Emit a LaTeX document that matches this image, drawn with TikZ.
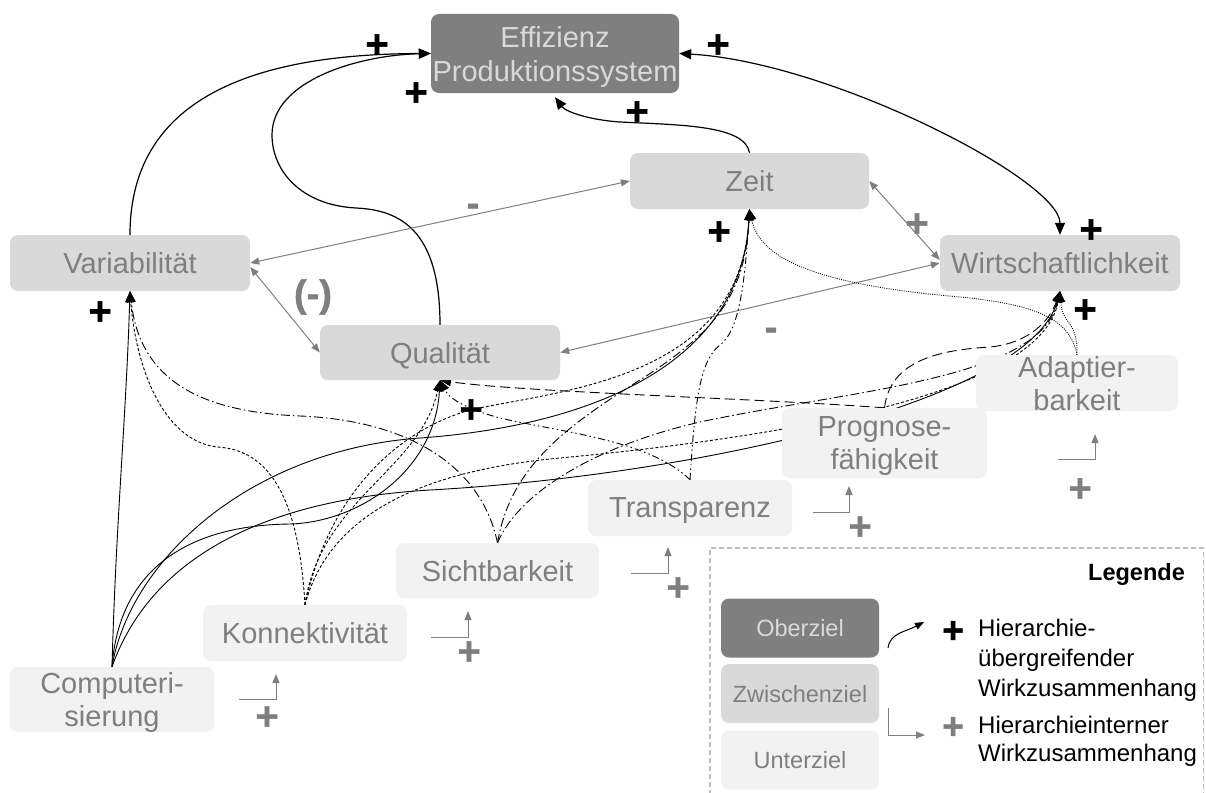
\documentclass[tikz,border=0pt]{standalone}
\usepackage{fontspec}
\setmainfont{Liberation Sans}
\newfontfamily\signfont[FakeBold=1.2]{Liberation Sans Bold}
\usetikzlibrary{arrows.meta}
\definecolor{dk}{HTML}{7F7F7F}
\definecolor{md}{HTML}{D9D9D9}
\definecolor{lt}{HTML}{F2F2F2}
\definecolor{lgray}{HTML}{BFBFBF}
\pgfdeclarelayer{links}
\pgfsetlayers{links,main}
\begin{document}
\begin{tikzpicture}[x=1pt,y=-1pt,
  goal/.style={rectangle, rounded corners=8pt, inner sep=0pt, align=center,
    text depth=0pt, font=\fontsize{29}{33}\selectfont},
  ober/.style={goal, fill=dk, text=md},
  zwischen/.style={goal, fill=md, text=dk},
  unter/.style={goal, fill=lt, text=dk},
  legbox/.style={font=\fontsize{23.5}{28}\selectfont, minimum width=158pt, minimum height=59pt},
  plusB/.style={font=\signfont\fontsize{40}{40}\selectfont, text=black, inner sep=0pt},
  plusG/.style={plusB, text=dk},
  signG/.style={font=\signfont\fontsize{38}{38}\selectfont, text=dk, inner sep=0pt},
  bigtip/.tip={Triangle[length=12pt,width=10pt]},
  smalltip/.tip={Triangle[length=9pt,width=7pt]},
  mainarrow/.style={draw=black, line width=1.2pt, -bigtip},
  link/.style={draw=black, line width=0.9pt, -{Triangle[length=11pt,width=9pt]}},
  fromComp/.style={link},
  fromKonn/.style={link, dash pattern=on 3pt off 2pt},
  fromSicht/.style={link, dash pattern=on 9pt off 3pt on 1.5pt off 3pt},
  fromTrans/.style={link, dash pattern=on 7pt off 3pt on 1.5pt off 3pt on 1.5pt off 3pt},
  fromProg/.style={link, dash pattern=on 10pt off 5pt},
  fromAdapt/.style={link, line width=0.8pt, dash pattern=on 1pt off 1.2pt},
  twoway/.style={draw=dk, line width=1pt, smalltip-smalltip},
  internal/.style={draw=dk, line width=1pt, -smalltip},
]
\useasboundingbox (0,0) rectangle (1206,792);

% ---------- goal boxes ----------
\node[ober, minimum width=248pt, minimum height=79pt, font=\fontsize{29}{34}\selectfont]
  (eff) at (555,53.5) {Effizienz\\Produktionssystem};
\node[zwischen, minimum width=239pt, minimum height=56pt] (zeit) at (749.5,181) {Zeit};
\node[zwischen, minimum width=240pt, minimum height=56pt] (wirt) at (1060,263) {Wirtschaftlichkeit};
\node[zwischen, minimum width=240pt, minimum height=56pt] (var) at (130,263) {Variabilität};
\node[zwischen, minimum width=240pt, minimum height=55pt] (qual) at (440,352.5) {Qualität};

\node[unter, minimum width=204pt, minimum height=65pt] (comp) at (112,699.5) {Computeri-\\sierung};
\node[unter, minimum width=204pt, minimum height=56pt] (konn) at (305,633) {Konnektivität};
\node[unter, minimum width=203pt, minimum height=55pt] (sicht) at (497.5,570.5) {Sichtbarkeit};
\node[unter, minimum width=204pt, minimum height=56pt] (trans) at (690,508) {Transparenz};
\node[unter, minimum width=205pt, minimum height=70pt] (progn) at (884.5,443) {Prognose-\\fähigkeit};
\node[unter, minimum width=202pt, minimum height=56pt] (adapt) at (1077,383) {Adaptier-\\barkeit};

% ---------- connectors (behind the boxes) ----------
\begin{pgfonlayer}{links}
% links towards the top goal
\draw[mainarrow] (var.north) .. controls (130,100) and (250,54) .. (eff.west);
\draw[mainarrow] (qual.north) .. controls (440,230) and (400,210) .. (356,208)
  .. controls (300,205) and (272,170) .. (272,135)
  .. controls (272,80) and (360,55) .. (eff.west);
\draw[mainarrow] (zeit.north) .. controls (745,125) and (680,125) .. (620,122)
  .. controls (590,120) and (566,112) .. ([yshift=-4pt]eff.south);
\draw[mainarrow, bigtip-bigtip] (eff.east) .. controls (830,62) and (1060,180) .. (wirt.north);

% links between intermediate goals
\draw[twoway] (zeit.west) -- (var.east);
\draw[twoway] ([yshift=-4pt]var.east) -- (qual.west);
\draw[twoway] (zeit.east) -- ([yshift=3pt]wirt.west);
\draw[twoway] (qual.east) -- (wirt.west);

% from Computerisierung
\draw[fromComp] (comp.north) .. controls (116,520) and (126,420) .. (var.south);
\draw[fromComp] (comp.north) .. controls (120,560) and (200,525) .. (290,524)
  .. controls (360,522) and (435,470) .. (qual.south);
\draw[fromComp] (comp.north) .. controls (130,560) and (250,450) .. (420,438)
  .. controls (560,428) and (740,380) .. (zeit.south);
\draw[fromComp] (comp.north) .. controls (150,560) and (260,500) .. (430,490)
  .. controls (700,475) and (1030,400) .. (wirt.south);

% from Konnektivitaet
\draw[fromKonn] (konn.north) .. controls (300,520) and (280,450) .. (217,447)
  .. controls (160,440) and (135,360) .. (var.south);
\draw[fromKonn] (konn.north) .. controls (320,500) and (420,470) .. (qual.south);
\draw[fromKonn] (konn.north) .. controls (330,490) and (400,430) .. (470,410)
  .. controls (560,390) and (740,380) .. (zeit.south);
\draw[fromKonn] (konn.north) .. controls (330,510) and (430,470) .. (560,458)
  .. controls (750,440) and (1040,400) .. (wirt.south);

% from Sichtbarkeit
\draw[fromSicht] (sicht.north) .. controls (480,460) and (400,420) .. (300,416)
  .. controls (200,412) and (140,380) .. (var.south);
\draw[fromSicht] (sicht.north) .. controls (510,470) and (560,430) .. (640,380)
  .. controls (710,335) and (745,300) .. (zeit.south);
\draw[fromSicht] (sicht.north) .. controls (520,490) and (600,445) .. (700,422)
  .. controls (850,390) and (1040,380) .. (wirt.south);

% from Transparenz
\draw[fromTrans] (trans.north) .. controls (650,440) and (560,432) .. (500,418)
  .. controls (470,410) and (450,400) .. (qual.south);
\draw[fromTrans] (trans.north) .. controls (695,400) and (700,360) .. (720,345)
  .. controls (740,330) and (745,280) .. (zeit.south);

% from Prognosefaehigkeit
\draw[fromProg] (progn.north) .. controls (750,398) and (520,392) .. (qual.south);
\draw[fromProg] (progn.north) .. controls (890,360) and (940,350) .. (990,347)
  .. controls (1030,343) and (1050,320) .. (wirt.south);

% from Adaptierbarkeit
\draw[fromAdapt] (adapt.north) .. controls (1078,320) and (1062,325) .. (wirt.south);
\draw[fromAdapt] (adapt.north) .. controls (1070,320) and (1040,305) .. (960,297)
  .. controls (820,285) and (760,260) .. (zeit.south);
\end{pgfonlayer}

% ---------- effect signs ----------
\node[plusB] (s1) at (377,46) {+};
\node[plusB] (s2) at (416,94) {+};
\node[plusB] (s3) at (718,46) {+};
\node[plusB] (s4) at (637,113) {+};
\node[plusB] (s5) at (719,233) {+};
\node[plusB] (s6) at (1091,231) {+};
\node[plusB] (s7) at (1085,311) {+};
\node[plusB] (s8) at (100,313) {+};
\node[plusB] (s9) at (471,411) {+};

\node[signG] (m1) at (473,210) {-};
\node[signG] (m2) at (313,297) {(-)};
\node[plusG] (g1) at (917,225) {+};
\node[signG] (m3) at (771,334) {-};

% ---------- hierarchy-internal markers ----------
\coordinate (i1a) at (239,699); \coordinate (i1b) at (276,674);
\coordinate (i2a) at (431,637); \coordinate (i2b) at (468,611);
\coordinate (i3a) at (631,573); \coordinate (i3b) at (668,547);
\coordinate (i4a) at (813,512); \coordinate (i4b) at (849,486);
\coordinate (i5a) at (1058,459); \coordinate (i5b) at (1095,434);
\draw[internal] (i1a) -| (i1b);
\draw[internal] (i2a) -| (i2b);
\draw[internal] (i3a) -| (i3b);
\draw[internal] (i4a) -| (i4b);
\draw[internal] (i5a) -| (i5b);
\node[plusG] (h1) at (267,718) {+};
\node[plusG] (h2) at (469,653) {+};
\node[plusG] (h3) at (678,589) {+};
\node[plusG] (h4) at (860,528) {+};
\node[plusG] (h5) at (1080,490) {+};

% ---------- legend ----------
\draw[lgray, line width=1.5pt, dash pattern=on 5pt off 3pt]
  (710,795) -- (710,548) -- (1203.5,548) -- (1203.5,795);
\node[anchor=base east, inner sep=0pt, font=\bfseries\fontsize{23.5}{28}\selectfont]
  (legtitle) at (1185,580) {Legende};
\node[ober, legbox] (lo) at (800,628) {Oberziel};
\node[zwischen, legbox] (lz) at (800,693.5) {Zwischenziel};
\node[unter, legbox] (lu) at (800,760) {Unterziel};

\coordinate (la1) at (888,648); \coordinate (la2) at (924,622);
\draw[black, line width=1pt, -smalltip] (la1) .. controls (890,633) and (905,632) .. (la2);
\coordinate (lb1) at (888,708); \coordinate (lb2) at (925,735);
\draw[internal] (lb1) |- (lb2);

\node[plusB, font=\signfont\fontsize{37}{37}\selectfont] (lp1) at (953,632) {+};
\node[plusG, font=\signfont\fontsize{37}{37}\selectfont] (lp2) at (953,728) {+};
\node[anchor=north west, align=left, inner sep=0pt, font=\fontsize{24}{30}\selectfont]
  (lt1) at (978,619) {Hierarchie-\\übergreifender\\Wirkzusammenhang};
\node[anchor=north west, align=left, inner sep=0pt, font=\fontsize{24}{28}\selectfont]
  (lt2) at (978,716) {Hierarchieinterner\\Wirkzusammenhang};
\end{tikzpicture}
\end{document}
